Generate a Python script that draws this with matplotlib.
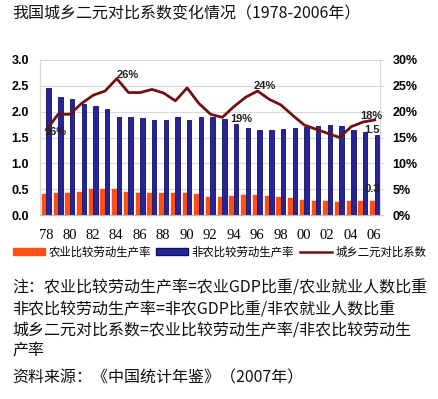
import matplotlib
matplotlib.use("Agg")
import matplotlib.pyplot as plt
import numpy as np
from matplotlib.patches import Patch
from matplotlib.lines import Line2D

plt.rcParams['font.family'] = ['Noto Sans CJK SC', 'DejaVu Sans']

years = list(range(1978, 2007))
tick_labels = ['78', '80', '82', '84', '86', '88', '90', '92', '94', '96', '98', '00', '02', '04', '06']
agri = [0.40, 0.43, 0.43, 0.45, 0.50, 0.50, 0.50, 0.45, 0.43, 0.43, 0.42, 0.42, 0.43, 0.40, 0.35,
        0.34, 0.36, 0.38, 0.38, 0.36, 0.34, 0.32, 0.29, 0.27, 0.27, 0.25, 0.27, 0.27, 0.27]
nonagri = [2.45, 2.29, 2.24, 2.15, 2.11, 2.06, 1.89, 1.90, 1.87, 1.84, 1.84, 1.89, 1.84, 1.89, 1.89,
           1.86, 1.76, 1.69, 1.64, 1.64, 1.66, 1.69, 1.70, 1.73, 1.74, 1.73, 1.64, 1.61, 1.55]
coef = [16.5, 19.5, 19.5, 21.6, 23.2, 24.0, 26.4, 23.7, 23.7, 24.3, 23.6, 22.1, 24.6, 21.6, 19.5,
        18.9, 21.0, 22.8, 24.0, 22.4, 21.3, 19.3, 17.4, 16.6, 15.8, 15.0, 17.1, 18.0, 18.4]
labels = ['农业比较劳动生产率', '非农比较劳动生产率', '城乡二元对比系数']
title = '我国城乡二元对比系数变化情况（1978-2006年）'
notes = ['注：农业比较劳动生产率=农业GDP比重/农业就业人数比重',
         '非农比较劳动生产率=非农GDP比重/非农就业人数比重',
         '城乡二元对比系数=农业比较劳动生产率/非农比较劳动生',
         '产率',
         '资料来源：《中国统计年鉴》（2007年）']

c_or = '#FF4F14'
c_bl = '#25249A'
c_bl_edge = '#121060'
c_ln = '#6E1212'
grid_c = '#D9D9D9'

fig = plt.figure(figsize=(4.39, 3.99), dpi=100)
ax = fig.add_axes([40/439, 1-215/399, 340/439, 155/399])
ax2 = ax.twinx()

x = np.arange(len(years))
ax.bar(x - 0.15, agri, width=0.38, color=c_or, edgecolor=c_or, linewidth=0.3, zorder=3)
ax.bar(x + 0.23, nonagri, width=0.38, color=c_bl, edgecolor=c_bl_edge, linewidth=0.6, zorder=3)
ax2.plot(x + 0.05, coef, color=c_ln, linewidth=2.0, zorder=4)

ax.set_xlim(-0.5, len(years) - 0.5)
ax.set_ylim(0, 3.0)
ax2.set_ylim(0, 30)
ax.set_yticks(np.arange(0, 3.01, 0.5))
ax.set_yticklabels(['%.1f' % v for v in np.arange(0, 3.01, 0.5)],
                   fontfamily='Liberation Sans', fontweight='bold', fontsize=9)
ax2.set_yticks(np.arange(0, 31, 5))
ax2.set_yticklabels(['%d%%' % v for v in range(0, 31, 5)],
                    fontfamily='Liberation Sans', fontweight='bold', fontsize=9)
ax.set_xticks(x[::2])
ax.set_xticklabels(tick_labels, fontfamily='Liberation Serif', fontsize=10.5)
ax.tick_params(axis='x', length=0, pad=10)
ax.tick_params(axis='y', length=0, pad=8)
ax2.tick_params(axis='y', length=3, color=grid_c, pad=6)
ax.grid(axis='y', color=grid_c, linewidth=0.8, zorder=0)
ax.set_axisbelow(True)
for a in (ax, ax2):
    a.spines['top'].set_visible(False)
    a.spines['left'].set_color(grid_c)
    a.spines['right'].set_color(grid_c)
    a.spines['bottom'].set_color('#BBBBBB')

ann = dict(fontfamily='Liberation Sans', fontweight='bold', fontsize=8, color='#222222',
           ha='center', va='center', zorder=6)
ax2.text(0.8, 16.1, '16%', **ann)
ax2.text(7.0, 27.1, '26%', **ann)
ax2.text(16.7, 18.6, '19%', **ann)
ax2.text(18.7, 24.9, '24%', **ann)
ax2.text(27.8, 19.2, '18%', **ann)
ax.text(27.8, 1.64, '1.5', **ann)
ax.text(27.8, 0.50, '0.3', **ann)

handles = [Patch(facecolor=c_or, edgecolor=c_or),
           Patch(facecolor=c_bl, edgecolor=c_bl_edge),
           Line2D([0], [0], color=c_ln, linewidth=1.8)]
fig.legend(handles, labels, loc='center left', bbox_to_anchor=(13/439, 1-252/399), ncol=3,
           frameon=False, fontsize=8.2, handlelength=2.8, handleheight=0.5, handletextpad=0.3,
           columnspacing=0.5, borderpad=0, borderaxespad=0)

fig.text(12/439, 1-14/399, title, fontsize=11.5, va='center', ha='left', color='#111111')
ys = [288, 310, 331, 351, 378]
for t, yy in zip(notes, ys):
    fig.text(12/439, 1-yy/399, t, fontsize=11.5, va='center', ha='left', color='#111111')

fig.savefig('out.png', dpi=100)
